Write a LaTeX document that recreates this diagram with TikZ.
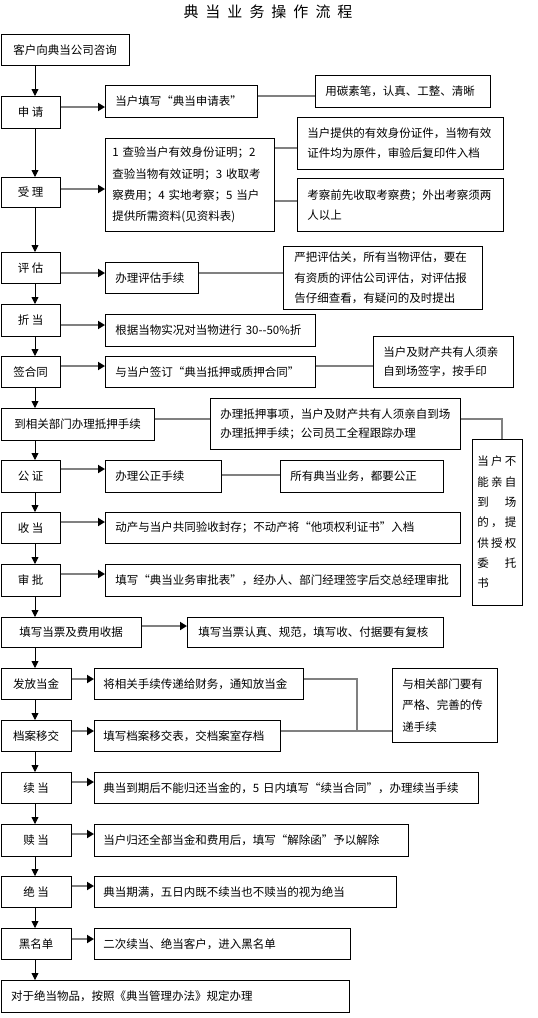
\documentclass[tikz,border=0pt]{standalone}
\usepackage{fontspec}
\setmainfont{Noto Sans CJK SC}
\usetikzlibrary{arrows.meta}
\definecolor{linegray}{HTML}{808080}
\tikzset{
  box/.style={draw, line width=0.9pt, inner sep=0pt, anchor=north west, font=\fontsize{11.5}{20.5}\selectfont},
  cbox/.style={box, align=center},
  rbox/.style={box, align=left, inner xsep=10pt},
  varrow/.style={draw=black, line width=0.9pt, -{Triangle[length=7pt,width=7pt]}},
  harrow/.style={draw=linegray, line width=1.8pt, -{Triangle[length=7pt,width=8pt,color=black]}},
  hline/.style={draw=linegray, line width=1.8pt},
}
\begin{document}
\begin{tikzpicture}[x=1pt,y=-1pt]
\useasboundingbox (0,0) rectangle (538,1018);
\coordinate (spine) at (35,0);
\node[font=\fontsize{15}{15}\selectfont] (title) at (268,12) {典\hspace{7pt}当\hspace{7pt}业\hspace{7pt}务\hspace{7pt}操\hspace{7pt}作\hspace{7pt}流\hspace{7pt}程};

% left column
\node[cbox, minimum width=128pt, minimum height=31pt] (n1) at (0.6,34) {客户向典当公司咨询};
\node[cbox, minimum width=59pt, minimum height=32pt] (n2) at (0.6,96) {申 请};
\node[cbox, minimum width=59pt, minimum height=30pt] (n3) at (0.6,177) {受 理};
\node[cbox, minimum width=59pt, minimum height=31pt] (n4) at (0.6,252) {评 估};
\node[cbox, minimum width=59pt, minimum height=32pt] (n5) at (0.6,304) {折 当};
\node[cbox, minimum width=59pt, minimum height=31pt] (n6) at (0.6,356) {签合同};
\node[cbox, minimum width=153pt, minimum height=32pt] (n7) at (0.6,408) {到相关部门办理抵押手续};
\node[cbox, minimum width=59pt, minimum height=32pt] (n8) at (0.6,460) {公 证};
\node[cbox, minimum width=59pt, minimum height=31pt] (n9) at (0.6,512) {收 当};
\node[cbox, minimum width=59pt, minimum height=32pt] (n10) at (0.6,564) {审 批};
\node[cbox, minimum width=140pt, minimum height=30pt] (n11) at (0.6,617) {填写当票及费用收据};
\node[cbox, minimum width=70pt, minimum height=31pt] (n12) at (0.6,668) {发放当金};
\node[cbox, minimum width=70pt, minimum height=31pt] (n13) at (0.6,720) {档案移交};
\node[cbox, minimum width=70pt, minimum height=31pt] (n14) at (0.6,772) {续 当};
\node[cbox, minimum width=70pt, minimum height=32pt] (n15) at (0.6,824) {赎 当};
\node[cbox, minimum width=70pt, minimum height=31pt] (n16) at (0.6,876) {绝 当};
\node[cbox, minimum width=70pt, minimum height=31pt] (n17) at (0.6,928) {黑名单};
\node[rbox, text width=328pt, minimum height=32pt] (n18) at (0.6,980) {对于绝当物品，按照《典当管理办法》规定办理};

% right boxes
\node[rbox, text width=132pt, minimum height=32pt] (r2) at (105,85) {当户填写“典当申请表”};
\node[rbox, text width=155pt, minimum height=32pt] (r2b) at (315,75) {用碳素笔，认真、工整、清晰};
\node[rbox, inner xsep=7pt, text width=155pt, minimum height=93pt, font=\fontsize{11.5}{21.3}\selectfont] (r3) at (105,138) {1 查验当户有效身份证明；2\\查验当物有效证明；3 收取考\\察费用；4 实地考察；5 当户\\提供所需资料(见资料表)};
\node[rbox, text width=186pt, minimum height=52pt, font=\fontsize{11.5}{20}\selectfont] (r3a) at (297,117) {当户提供的有效身份证件，当物有效\\证件均为原件，审验后复印件入档};
\node[rbox, text width=186pt, minimum height=53pt, font=\fontsize{11.5}{20}\selectfont] (r3b) at (297,178) {考察前先收取考察费；外出考察须两\\人以上};
\node[rbox, text width=73pt, minimum height=31pt] (r4) at (105,262) {办理评估手续};
\node[rbox, inner xsep=11pt, text width=177pt, minimum height=63pt] (r4b) at (283,246) {严把评估关，所有当物评估，要在\\有资质的评估公司评估，对评估报\\告仔细查看，有疑问的及时提出};
\node[rbox, text width=190pt, minimum height=32pt] (r5) at (105,314) {根据当物实况对当物进行 30-{}-50\%折};
\node[rbox, text width=190pt, minimum height=31pt] (r6) at (105,356) {与当户签订“典当抵押或质押合同”};
\node[rbox, text width=120pt, minimum height=51pt, font=\fontsize{11.5}{19.5}\selectfont] (r6b) at (373,336) {当户及财产共有人须亲\\自到场签字，按手印};
\node[rbox, text width=230pt, minimum height=51pt, font=\fontsize{11.5}{19.5}\selectfont] (r7) at (210,398) {办理抵押事项，当户及财产共有人须亲自到场\\办理抵押手续；公司员工全程跟踪办理};
\node[rbox, inner xsep=5pt, text width=40pt, minimum height=166pt, font=\fontsize{11.5}{20.3}\selectfont] (r7b) at (472,439) {\makebox[39pt]{当\hfill 户\hfill 不}\\\makebox[39pt]{能\hfill 亲\hfill 自}\\\makebox[39pt]{到\hfill 场}\\\makebox[39pt]{的\hfill ，\hfill 提}\\\makebox[39pt]{供\hfill 授\hfill 权}\\\makebox[39pt]{委\hfill 托}\\书\\[4pt]};
\node[rbox, text width=96pt, minimum height=32pt] (r8) at (105,460) {办理公正手续};
\node[rbox, text width=143pt, minimum height=32pt] (r8b) at (280,460) {所有典当业务，都要公正};
\node[rbox, text width=335pt, minimum height=31pt] (r9) at (105,512) {动产与当户共同验收封存；不动产将“他项权利证书”入档};
\node[rbox, text width=335pt, minimum height=32pt] (r10) at (105,564) {填写“典当业务审批表”，经办人、部门经理签字后交总经理审批};
\node[rbox, inner xsep=11pt, text width=234pt, minimum height=30pt] (r11) at (187,617) {填写当票认真、规范，填写收、付据要有复核};
\node[rbox, inner xsep=9pt, text width=191pt, minimum height=31pt] (r12) at (94,668) {将相关手续传递给财务，通知放当金};
\node[rbox, text width=85pt, minimum height=74pt, font=\fontsize{11.5}{21.5}\selectfont] (r12b) at (392,668) {与相关部门要有\\严格、完善的传\\递手续};
\node[rbox, inner xsep=9pt, text width=168pt, minimum height=31pt] (r13) at (94,720) {填写档案移交表，交档案室存档};
\node[rbox, inner xsep=9pt, text width=366pt, minimum height=31pt] (r14) at (94,772) {典当到期后不能归还当金的，5 日内填写“续当合同”，办理续当手续};
\node[rbox, inner xsep=9pt, text width=296pt, minimum height=32pt] (r15) at (94,824) {当户归还全部当金和费用后，填写“解除函”予以解除};
\node[rbox, inner xsep=9pt, text width=284pt, minimum height=31pt] (r16) at (94,876) {典当期满，五日内既不续当也不赎当的视为绝当};
\node[rbox, inner xsep=9pt, text width=238pt, minimum height=31pt] (r17) at (94,928) {二次续当、绝当客户，进入黑名单};

% vertical spine arrows
\foreach \a/\b in {n1/n2,n2/n3,n3/n4,n4/n5,n5/n6,n6/n7,n7/n8,n8/n9,n9/n10,n10/n11,n11/n12,n12/n13,n13/n14,n14/n15,n15/n16,n16/n17,n17/n18}
  \draw[varrow] (\a.south -| spine) -- (\b.north -| spine);

% horizontal arrows
\foreach \a/\b/\y in {n2/r2/107,n3/r3/189,n4/r4/273,n5/r5/325,n6/r6/366,n8/r8/469,n9/r9/522,n10/r10/574,n11/r11/626,n12/r12/679,n13/r13/731,n14/r14/782,n15/r15/834,n16/r16/886,n17/r17/939}
  \draw[harrow] (\a.east |- 0,\y) -- (\b.west |- 0,\y);

% plain connectors
\draw[hline] (r2.east |- 0,96) -- (r2b.west |- 0,96);
\draw[hline] (r3.east |- 0,148) -- (r3a.west |- 0,148);
\draw[hline] (r3.east |- 0,201) -- (r3b.west |- 0,201);
\draw[hline] (r4.east |- 0,273) -- (r4b.west |- 0,273);
\draw[hline] (r6.east |- 0,366) -- (r6b.west |- 0,366);
\draw[hline] (n7.east |- 0,419) -- (r7.west |- 0,419);
\draw[hline] (r7.east |- 0,419) -| (r7b.north -| 502,0);
\draw[hline] (r8.east |- 0,475) -- (r8b.west |- 0,475);
\coordinate (j) at (357,731);
\draw[hline] (r12.east |- 0,679) -| (j);
\draw[hline] (r13.east |- 0,731) -- (r12b.west |- 0,731);
\end{tikzpicture}
\end{document}
